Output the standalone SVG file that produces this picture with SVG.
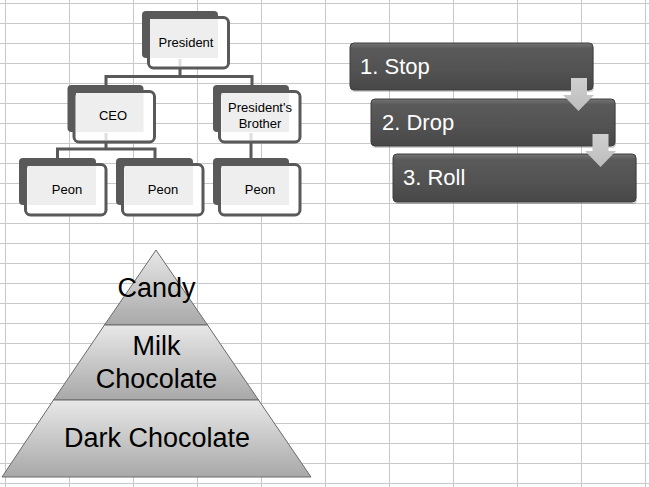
<svg xmlns="http://www.w3.org/2000/svg" width="649" height="487" viewBox="0 0 649 487">
<defs>
<style>
.grid line{stroke:#c8c8c8;stroke-width:1}
.back{fill:#595959}
.front{fill:#ffffff;stroke:#595959;stroke-width:3}
.inner{fill:#eeeeee}
.otext{font-family:"Liberation Sans",Arial,sans-serif;font-size:13px;fill:#000;text-anchor:middle}
.conn{stroke:#595959;stroke-width:3;fill:none}
.tick{stroke:#dedede;stroke-width:3}
.pbox{fill:url(#boxg);stroke:#3f3f3f;stroke-width:1}
.pshadow{fill:#000;opacity:0.18}
.ptext{font-family:"Liberation Sans",Arial,sans-serif;font-size:22px;fill:#ffffff}
.arrow{fill:url(#arrg)}
.pyr{fill:url(#pyrg);stroke:#6a6a6a;stroke-width:1}
.pytext{font-family:"Liberation Sans",Arial,sans-serif;font-size:27px;fill:#000;text-anchor:middle}
</style>
<linearGradient id="boxg" x1="0" y1="0" x2="0" y2="1">
<stop offset="0" stop-color="#747474"/>
<stop offset="0.12" stop-color="#5a5a5a"/>
<stop offset="0.6" stop-color="#525252"/>
<stop offset="1" stop-color="#474747"/>
</linearGradient>
<linearGradient id="arrg" x1="0" y1="0" x2="0" y2="1">
<stop offset="0" stop-color="#cfcfcf"/>
<stop offset="1" stop-color="#bdbdbd"/>
</linearGradient>
<linearGradient id="pyrg" x1="0" y1="0" x2="0" y2="1">
<stop offset="0" stop-color="#e8e8e8"/>
<stop offset="1" stop-color="#a8a8a8"/>
</linearGradient>
</defs>
<rect width="649" height="487" fill="#ffffff"/>
<g class="grid">
<line x1="5.5" y1="0" x2="5.5" y2="487"/>
<line x1="69.5" y1="0" x2="69.5" y2="487"/>
<line x1="133.5" y1="0" x2="133.5" y2="487"/>
<line x1="197.5" y1="0" x2="197.5" y2="487"/>
<line x1="261.5" y1="0" x2="261.5" y2="487"/>
<line x1="325.5" y1="0" x2="325.5" y2="487"/>
<line x1="389.5" y1="0" x2="389.5" y2="487"/>
<line x1="453.5" y1="0" x2="453.5" y2="487"/>
<line x1="517.5" y1="0" x2="517.5" y2="487"/>
<line x1="581.5" y1="0" x2="581.5" y2="487"/>
<line x1="645.5" y1="0" x2="645.5" y2="487"/>
<line x1="0" y1="3.5" x2="649" y2="3.5"/>
<line x1="0" y1="23.5" x2="649" y2="23.5"/>
<line x1="0" y1="43.5" x2="649" y2="43.5"/>
<line x1="0" y1="63.5" x2="649" y2="63.5"/>
<line x1="0" y1="83.5" x2="649" y2="83.5"/>
<line x1="0" y1="103.5" x2="649" y2="103.5"/>
<line x1="0" y1="123.5" x2="649" y2="123.5"/>
<line x1="0" y1="143.5" x2="649" y2="143.5"/>
<line x1="0" y1="163.5" x2="649" y2="163.5"/>
<line x1="0" y1="183.5" x2="649" y2="183.5"/>
<line x1="0" y1="203.5" x2="649" y2="203.5"/>
<line x1="0" y1="223.5" x2="649" y2="223.5"/>
<line x1="0" y1="243.5" x2="649" y2="243.5"/>
<line x1="0" y1="263.5" x2="649" y2="263.5"/>
<line x1="0" y1="283.5" x2="649" y2="283.5"/>
<line x1="0" y1="303.5" x2="649" y2="303.5"/>
<line x1="0" y1="323.5" x2="649" y2="323.5"/>
<line x1="0" y1="343.5" x2="649" y2="343.5"/>
<line x1="0" y1="363.5" x2="649" y2="363.5"/>
<line x1="0" y1="383.5" x2="649" y2="383.5"/>
<line x1="0" y1="403.5" x2="649" y2="403.5"/>
<line x1="0" y1="423.5" x2="649" y2="423.5"/>
<line x1="0" y1="443.5" x2="649" y2="443.5"/>
<line x1="0" y1="463.5" x2="649" y2="463.5"/>
<line x1="0" y1="483.5" x2="649" y2="483.5"/>
</g>

<g id="connectors">
<path class="conn" d="M180 66 V76.5 M106 88 V76.5 H252 V88"/>
<path class="conn" d="M106 140 V149 M57.5 160 V149 H155 V160"/>
<path class="conn" d="M251 140 V160"/>
</g>

<g id="node-president">
<rect class="back" x="142" y="11" width="76" height="47" rx="4"/>
<rect class="front" x="148.5" y="17.5" width="80" height="50.5" rx="5"/>
<rect class="inner" x="150" y="19" width="68" height="39"/>
<line class="tick" x1="180" y1="59" x2="180" y2="66"/>
<text class="otext" x="186" y="47">President</text>
</g>
<g id="node-ceo">
<rect class="back" x="67.5" y="85" width="76" height="47" rx="4"/>
<rect class="front" x="74" y="91.5" width="80.5" height="50.5" rx="5"/>
<rect class="inner" x="76" y="93" width="67.5" height="39"/>
<line class="tick" x1="106" y1="133" x2="106" y2="140"/>
<text class="otext" x="113" y="119.5">CEO</text>
</g>
<g id="node-brother">
<rect class="back" x="213" y="85" width="76" height="47" rx="4"/>
<rect class="front" x="219.5" y="91.5" width="80.5" height="50.5" rx="5"/>
<rect class="inner" x="221.5" y="93" width="67.5" height="39"/>
<line class="tick" x1="251" y1="133" x2="251" y2="140"/>
<text class="otext" x="260" y="112">President's</text>
<text class="otext" x="260" y="128">Brother</text>
</g>
<g id="node-peon1">
<rect class="back" x="19" y="158" width="77" height="47" rx="4"/>
<rect class="front" x="25.5" y="164.5" width="80.5" height="50.5" rx="5"/>
<rect class="inner" x="27.5" y="166" width="68.5" height="39"/>
<text class="otext" x="67" y="194">Peon</text>
</g>
<g id="node-peon2">
<rect class="back" x="116" y="158" width="77" height="47" rx="4"/>
<rect class="front" x="122.5" y="164.5" width="80.5" height="50.5" rx="5"/>
<rect class="inner" x="124.5" y="166" width="68.5" height="39"/>
<text class="otext" x="163" y="194">Peon</text>
</g>
<g id="node-peon3">
<rect class="back" x="213" y="158" width="76" height="47" rx="4"/>
<rect class="front" x="219.5" y="164.5" width="80.5" height="50.5" rx="5"/>
<rect class="inner" x="221.5" y="166" width="67.5" height="39"/>
<text class="otext" x="260" y="194">Peon</text>
</g>

<g id="step1">
<rect class="pshadow" x="351" y="45" width="243" height="47" rx="4"/>
<rect class="pbox" x="350" y="43" width="243" height="47" rx="4"/>
<text class="ptext" x="360" y="74">1. Stop</text>
</g>
<g id="step2">
<rect class="pshadow" x="372" y="101" width="244" height="47" rx="4"/>
<rect class="pbox" x="371" y="99" width="244" height="47" rx="4"/>
<text class="ptext" x="382" y="130">2. Drop</text>
</g>
<g id="step3">
<rect class="pshadow" x="394" y="156" width="243" height="48" rx="4"/>
<rect class="pbox" x="393" y="154" width="243" height="48" rx="4"/>
<text class="ptext" x="403" y="185">3. Roll</text>
</g>
<g id="step-arrows">
<polygon class="arrow" points="571,78 587,78 587,95 594,95 578.5,111 563,95 571,95"/>
<polygon class="arrow" points="592.5,134 608.5,134 608.5,151 616,151 600.5,167 585,151 592.5,151"/>
</g>

<g id="pyramid-top">
<polygon class="pyr" points="156,250 207.5,325 104.5,325"/>
<text class="pytext" x="156.5" y="297">Candy</text>
</g>
<g id="pyramid-middle">
<polygon class="pyr" points="104.5,325 207.5,325 258.5,400 53.5,400"/>
<text class="pytext" x="156.5" y="355">Milk</text>
<text class="pytext" x="156.5" y="388">Chocolate</text>
</g>
<g id="pyramid-bottom">
<polygon class="pyr" points="53.5,400 258.5,400 311,477 2,477"/>
<text class="pytext" x="157" y="447">Dark Chocolate</text>
</g>
</svg>
